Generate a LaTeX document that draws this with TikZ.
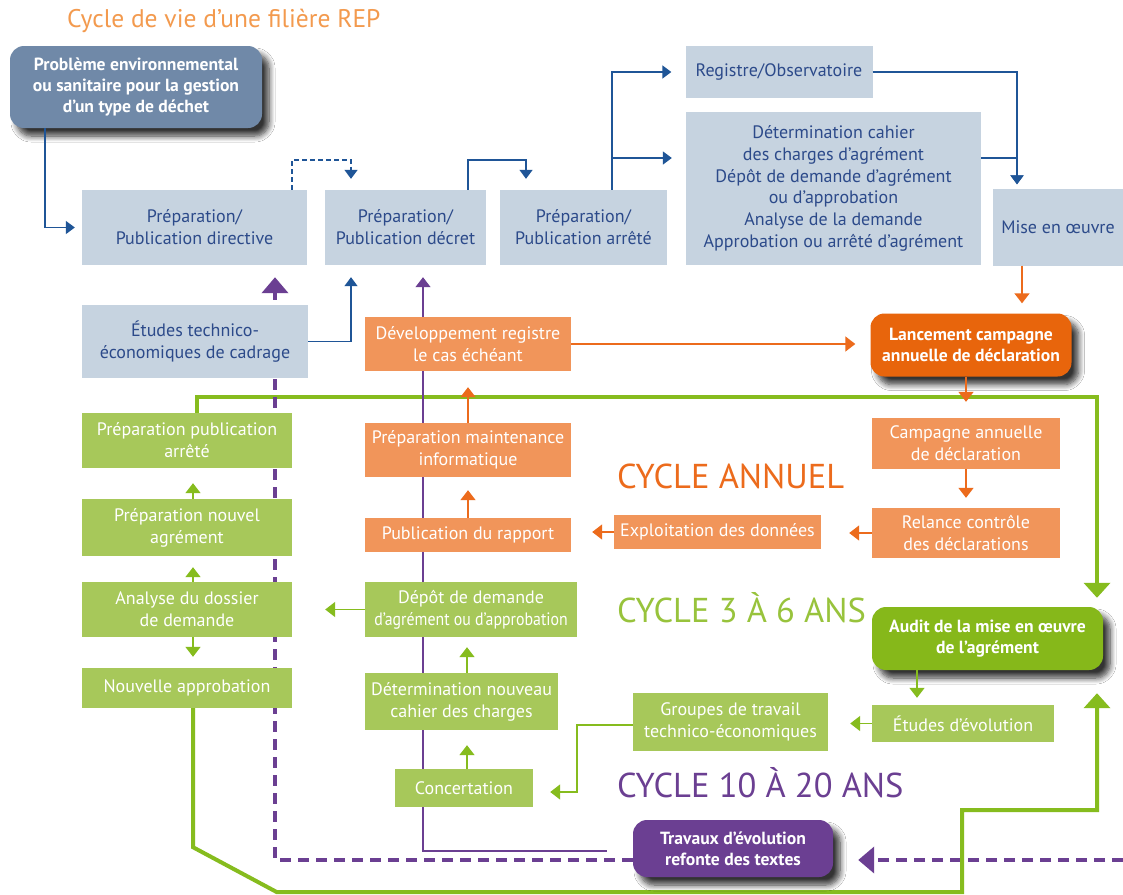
\documentclass[tikz,border=0pt]{standalone}
\usepackage{fontspec}
\setmainfont{PT Sans}
\usetikzlibrary{positioning}
\usetikzlibrary{arrows.meta}
\usetikzlibrary{shadows.blur}

\definecolor{boxblue}{HTML}{C6D3E0}
\definecolor{txtblue}{HTML}{2C4A8A}
\definecolor{lineblue}{HTML}{1F5597}
\definecolor{slate}{HTML}{7089A8}
\definecolor{orlight}{HTML}{F1955A}
\definecolor{ordark}{HTML}{E8650C}
\definecolor{orline}{HTML}{EC6B1C}
\definecolor{grlight}{HTML}{A7C85A}
\definecolor{grdark}{HTML}{86B81A}
\definecolor{grline}{HTML}{86BC1E}
\definecolor{purp}{HTML}{6B3F92}
\definecolor{titleor}{HTML}{F39A4E}

\pgfdeclarelayer{background}
\pgfsetlayers{background,main}

\tikzset{
  box/.style={align=center,inner sep=0pt,font=\fontsize{18}{22}\selectfont},
  blbox/.style={box,fill=boxblue,text=txtblue},
  orbox/.style={box,fill=orlight,text=white},
  grbox/.style={box,fill=grlight,text=white},
  rbox/.style={box,text=white,rounded corners=14pt,font=\bfseries\fontsize{17.6}{21}\selectfont,
    blur shadow={shadow xshift=7pt,shadow yshift=-8pt,shadow blur radius=6pt,shadow blur steps=8,shadow opacity=80}},
  cyc/.style={anchor=west,inner sep=0pt,font=\fontsize{34.5}{35}\selectfont},
  bline/.style={draw=lineblue,line width=1.6pt,-{Triangle[width=13pt,length=9pt]}},
  oline/.style={draw=orline,line width=1.6pt,-{Triangle[width=15pt,length=10pt]}},
  gline/.style={draw=grline,line width=1.6pt,-{Triangle[width=15pt,length=10pt]}},
  gthick/.style={draw=grline,line width=4pt,-{Triangle[width=26pt,length=15pt]}},
  pthick/.style={draw=purp,line width=4pt,dash pattern=on 11pt off 7pt,-{Triangle[width=26pt,length=16pt]}},
  gap/.style={shorten >=#1},
}

\begin{document}
\begin{tikzpicture}[x=1pt,y=-1pt]
  \path[use as bounding box] (0,0) rectangle (1123,894);

  % titles
  \node[anchor=west,inner sep=0pt,text=titleor,font=\fontsize{25.5}{25.5}\selectfont] (ttl) at (67,21) {Cycle de vie d’une filière REP};
  \node[cyc,text=orline] (cyA) at (617,476) {CYCLE ANNUEL};
  \node[cyc,text=grdark!85] (cy3) at (617,608) {CYCLE 3 À 6 ANS};
  \node[cyc,text=purp] (cy10) at (617,783) {CYCLE 10 À 20 ANS};

  % blue part
  \node[rbox,fill=slate,minimum width=252,minimum height=82] (prob) at (136,87) {Problème environnemental\\ou sanitaire pour la gestion\\d’un type de déchet};
  \node[blbox,minimum width=225,minimum height=75] (dir) at (194.5,227.5) {Préparation/\\Publication directive};
  \node[blbox,minimum width=161,minimum height=75] (decr) at (405.5,227.5) {Préparation/\\Publication décret};
  \node[blbox,minimum width=167,minimum height=75] (arr) at (583.5,227.5) {Préparation/\\Publication arrêté};
  \node[blbox,minimum width=187,minimum height=52] (reg) at (779,72) {Registre/Observatoire};
  \node[blbox,minimum width=295,minimum height=153,font=\fontsize{18}{21.8}\selectfont] (det) at (833.5,188.5) {Détermination cahier\\des charges d’agrément\\Dépôt de demande d’agrément\\ou d’approbation\\Analyse de la demande\\Approbation ou arrêté d’agrément};
  \node[blbox,minimum width=130,minimum height=77] (mise) at (1058,227) {Mise en œuvre};
  \node[blbox,minimum width=226,minimum height=73] (etu) at (195,341.5) {Études technico-\\économiques de cadrage};

  % orange part
  \node[orbox,minimum width=206,minimum height=54] (dev) at (468,344) {Développement registre\\le cas échéant};
  \node[rbox,fill=ordark,minimum width=201,minimum height=63] (lanc) at (971,345) {Lancement campagne\\annuelle de déclaration};
  \node[orbox,minimum width=188,minimum height=51] (camp) at (966,443.5) {Campagne annuelle\\de déclaration};
  \node[orbox,minimum width=188,minimum height=50] (rel) at (966,533) {Relance contrôle\\des déclarations};
  \node[orbox,minimum width=207,minimum height=34] (expl) at (717.5,532) {Exploitation des données};
  \node[orbox,minimum width=206,minimum height=54] (maint) at (468,450) {Préparation maintenance\\informatique};
  \node[orbox,minimum width=206,minimum height=34] (pub) at (468,535) {Publication du rapport};

  % green part
  \node[grbox,minimum width=210,minimum height=55] (parr) at (187,440.5) {Préparation publication\\arrêté};
  \node[grbox,minimum width=210,minimum height=57] (nagr) at (187,527.5) {Préparation nouvel\\agrément};
  \node[grbox,minimum width=210,minimum height=55] (ana) at (187,609.5) {Analyse du dossier\\de demande};
  \node[grbox,minimum width=210,minimum height=40] (napp) at (187,688) {Nouvelle approbation};
  \node[grbox,minimum width=212,minimum height=55] (dep) at (471,609.5) {Dépôt de demande\\\scalebox{0.88}[1]{d’agrément ou d’approbation}};
  \node[grbox,minimum width=193,minimum height=57] (detn) at (461.5,701.5) {Détermination nouveau\\cahier des charges};
  \node[grbox,minimum width=138,minimum height=38] (conc) at (464,788) {Concertation};
  \node[grbox,minimum width=195,minimum height=58] (grp) at (730.5,722) {Groupes de travail\\technico-économiques};
  \node[grbox,minimum width=182,minimum height=37] (etev) at (963,723.5) {Études d’évolution};
  \node[rbox,fill=grdark,minimum width=231,minimum height=63] (aud) at (987.5,638.5) {Audit de la mise en œuvre\\de l’agrément};
  \node[rbox,fill=purp,minimum width=200,minimum height=57] (trav) at (733,848.5) {Travaux d’évolution\\refonte des textes};
  \coordinate (edge) at (1123,860);

  % blue connectors
  \draw[bline,gap=7] ([xshift=-91]prob.south) |- (dir.west);
  \draw[bline,gap=11,dash pattern=on 5pt off 3pt] ([xshift=97.5]dir.north) -- ++(0,-30) -| ([xshift=-54.5]decr.north);
  \draw[bline,gap=11] ([xshift=62.5]decr.north) -- ++(0,-30) -| ([xshift=-57.5]arr.north);
  \draw[bline,gap=14] ([xshift=28.5]arr.north) |- (reg.west);
  \draw[bline,gap=14] ([xshift=28.5]arr.north) |- ([yshift=30.5]det.west);
  \draw[bline,gap=4] (reg.east) -| ([xshift=-41]mise.north);
  \draw[bline,gap=4] ([yshift=30.5]det.east) -| ([xshift=-41]mise.north);
  \draw[bline,gap=12] (etu.east) -| ([xshift=-54.5]decr.south);

  % orange connectors
  \draw[oline,gap=10] ([xshift=-36]mise.south) -- ([xshift=-36]mise.south |- lanc.north);
  \draw[oline,gap=15] (dev.east) -- (dev.east -| lanc.west);
  \draw[oline,gap=16] (camp.north |- lanc.south) -- (camp.north);
  \draw[oline,gap=10] (camp.south) -- (rel.north);
  \draw[oline,gap=28] (rel.west) -- (rel.west -| expl.east);
  \draw[oline,gap=21] (expl.west) -- (expl.west -| pub.east);
  \draw[oline,gap=13] (pub.north) -- (maint.south);
  \draw[oline,gap=16] (maint.north) -- (dev.south);

  % green connectors
  \draw[gline,gap=15] ([xshift=6]nagr.north) -- ([xshift=6]parr.south);
  \draw[gline,gap=11] ([xshift=6]ana.north) -- ([xshift=6]nagr.south);
  \draw[gline,gap=11] ([xshift=6]ana.south) -- ([xshift=6]napp.north);
  \draw[gline,gap=33] (dep.west) -- (dep.west -| ana.east);
  \draw[gline,gap=10] ([xshift=5.5]detn.north) -- ([xshift=5.5]detn.north |- dep.south);
  \draw[gline,gap=15] ([xshift=3]conc.north) -- ([xshift=3]conc.north |- detn.south);
  \draw[gline,gap=7] ([xshift=-70.5]aud.south) -- ([xshift=-70.5]aud.south |- etev.north);
  \draw[gline,gap=22] (etev.west) -- (etev.west -| grp.east);
  \draw[gline,gap=17] ([yshift=-3]grp.west) -- ++(-56,0) |- ([yshift=-4]conc.east);

  % long loops, behind the boxes
  \begin{pgfonlayer}{background}
    \fill[white] (0,0) rectangle (1123,894);
    \draw[gthick,gap=9] ([xshift=10]parr.north) -- ++(0,-16) -| ([xshift=109.5]aud.north);
    \draw[draw=purp,line width=1.3pt,shorten <=26pt,gap=12,-{Triangle[width=15pt,length=10pt]}] ([yshift=-2.5]trav.west) -| ([xshift=17.5]decr.south);
    \draw[pthick,gap=12] ([yshift=-11.5]trav.west) -| ([xshift=80.5]dir.south);
    \draw[pthick,gap=25] (edge) -- (edge -| trav.east);
    \draw[gthick,gap=23] ([xshift=6]napp.south) -- ++(0,139) -- ++(84,45) -| ++(685,-82) -| ([xshift=109.5]aud.south);
  \end{pgfonlayer}
\end{tikzpicture}
\end{document}
